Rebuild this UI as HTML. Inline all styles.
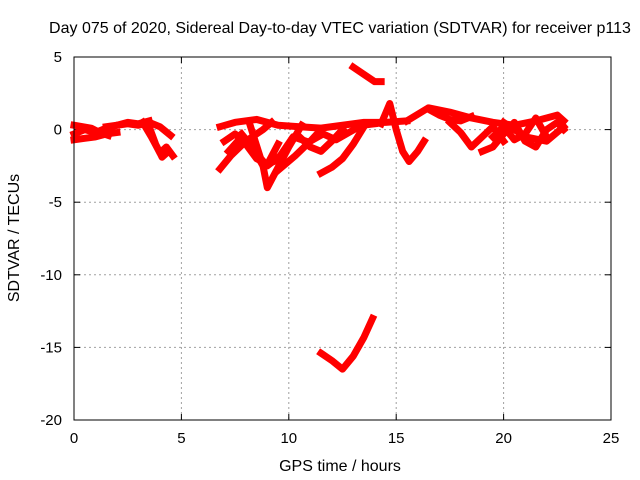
<!DOCTYPE html>
<html><head><meta charset="utf-8"><style>
body{margin:0;background:#fff}
svg{display:block;font-family:"Liberation Sans",sans-serif}
</style></head><body>
<svg id="chart" width="640" height="480">
<text x="340" y="33" font-size="16" text-anchor="middle">Day 075 of 2020, Sidereal Day-to-day VTEC variation (SDTVAR) for receiver p113</text>
<text x="340" y="471" font-size="16" text-anchor="middle">GPS time / hours</text>
<text transform="translate(19,238) rotate(-90)" font-size="16" text-anchor="middle">SDTVAR / TECUs</text>
<g id="grid"></g><g id="ticks"></g><g id="data"></g>
<rect x="74" y="57" width="537" height="363" fill="none" stroke="#000"/>
</svg>
<script>
const xTicks=[0,5,10,15,20,25];
const yTicks=[5,0,-5,-10,-15,-20];
const seriesHours=[
[0,0.5,1,1.5,2,2.5,3,3.5,4,4.5],
[0,0.5,1,1.5,2],
[3.2,3.6,4,4.3,4.6],
[3.5,3.8,4.1,4.4],
[6.8,7.5,8.5,9.5,10.5,11.5,12.5,13.5,14.5,15.5],
[6.8,7.3,8,8.8,9.2],
[8.2,8.8,9.0,9.5,10.0,10.6],
[7.8,8.3,8.8,9.3],
[9.5,10.3,11,11.5],
[11.5,12,12.5,13,13.5],
[13.0,13.5,14.0,14.3],
[11.5,12,12.5,13,13.5,13.9],
[14.3,14.7,15,15.3,15.6,16,16.3],
[15.5,16.5,17.5,18.5,19.5,20.5,21.5,22.5,22.8],
[17.5,18,18.5,19,19.5,20],
[19,19.5,20,20.5,21,21.5,22,22.5,22.8],
[20,21,22,22.8],
[10.5,11,11.5,12,12.5],
[0,0.4,0.8,1.2,1.6],
[1.5,2,2.5,3,3.5],
[7,7.5,8,8.5,9,9.5],
[7.2,7.8,8.4,9,9.6,10.2,10.8],
[11,11.6,12.2,12.8,13.4,14],
[16.5,17,17.5,18,18.5],
[19.5,20,20.5,21,21.5,22]
];
const seriesValues=[
[-0.3,0,-0.2,0.1,0.3,0.4,0.3,0.5,0.2,-0.4],
[-0.7,-0.6,-0.5,-0.3,-0.2],
[0.5,-0.5,-1.6,-1.2,-1.8],
[0.2,-1.0,-1.9,-1.5],
[0.2,0.5,0.7,0.3,0.2,0.1,0.3,0.5,0.5,0.6],
[-2.7,-1.8,-0.8,0,0.5],
[0.3,-2.5,-4.0,-2.6,-1.2,0.3],
[-0.3,-1.2,-2.5,-2.2],
[-2.8,-1.8,-0.8,0],
[-3.0,-2.6,-2.0,-1.0,0.2],
[4.3,3.8,3.3,3.3],
[-15.4,-15.9,-16.5,-15.6,-14.3,-13.0],
[0.4,1.8,0,-1.5,-2.2,-1.5,-0.8],
[0.6,1.5,1.2,0.8,0.5,0.3,0.6,1.0,0.6],
[0.5,-0.2,-1.2,-0.5,0.2,-0.8],
[-1.5,-1.2,-0.3,0.5,-0.8,-1.2,0,0.5,0],
[0.5,-0.5,-0.8,0.2],
[-0.5,-1.2,-1.5,-0.8,0],
[0.3,0.2,0.1,-0.2,-0.4],
[0.2,0.3,0.5,0.4,0.6],
[-0.8,-0.3,-1.0,-2.0,-2.4,-1.0],
[-1.5,-0.5,-1.5,-2.5,-1.8,-0.5,-0.8],
[-0.8,-0.3,-0.7,-0.2,0.3,0.4],
[1.4,1.0,0.7,0.6,0.9],
[-0.5,0.2,-0.7,-0.3,0.8,-0.5]
];
const X0=74,X1=611,Y0=57,Y1=420;
const xs=h=>X0+(h-0)/(25-0)*(X1-X0);
const ys=v=>Y0+(5-v)/(5-(-20))*(Y1-Y0);
const NS="http://www.w3.org/2000/svg";
const grid=document.getElementById('grid'),ticks=document.getElementById('ticks'),data=document.getElementById('data');
function mk(t,a,p){const e=document.createElementNS(NS,t);for(const k in a)e.setAttribute(k,a[k]);p.appendChild(e);return e;}
xTicks.forEach(t=>{const x=xs(t);
 if(t>0&&t<25){const g=mk('line',{x1:x,x2:x,y1:Y0,y2:Y1,stroke:'#a0a0a0','stroke-dasharray':'2,3'},grid);
 
 }
 mk('line',{x1:x,x2:x,y1:Y1,y2:Y1-6,stroke:'#000'},ticks);
 mk('line',{x1:x,x2:x,y1:Y0,y2:Y0+6,stroke:'#000'},ticks);
 const l=mk('text',{x:x,y:Y1+23,'font-size':15,'text-anchor':'middle'},ticks);l.textContent=t;
 
 });
yTicks.forEach(t=>{const y=ys(t);
 if(t<5&&t>-20){const g=mk('line',{x1:X0,x2:X1,y1:y,y2:y,stroke:'#a0a0a0','stroke-dasharray':'2,3'},grid);
 
 }
 mk('line',{x1:X0,x2:X0+6,y1:y,y2:y,stroke:'#000'},ticks);
 mk('line',{x1:X1,x2:X1-6,y1:y,y2:y,stroke:'#000'},ticks);
 const l=mk('text',{x:X0-12,y:y+5,'font-size':15,'text-anchor':'end'},ticks);l.textContent=t;
 
 });
seriesHours.forEach((hs,i)=>{const pts=hs.map((h,j)=>xs(h)+','+ys(seriesValues[i][j])).join(' ');
 const p=mk('polyline',{points:pts,fill:'none',stroke:'#ff0000','stroke-width':7,'stroke-linejoin':'round','stroke-linecap':'square'},data);
 
 });
</script>
</body></html>
